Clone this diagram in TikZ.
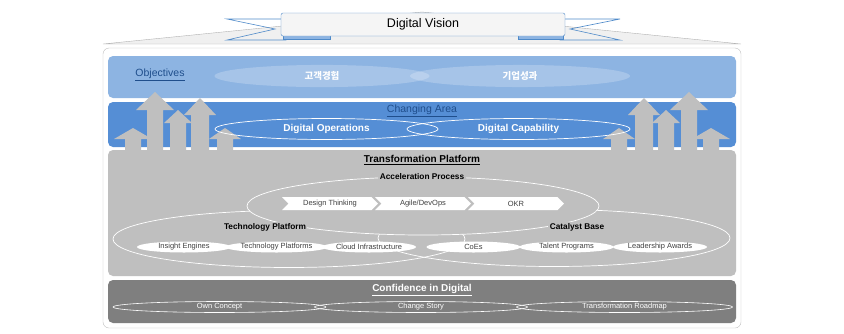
\documentclass[tikz,border=0pt]{standalone}
\usepackage{fontspec}
\setmainfont{Liberation Sans}
\newfontfamily\krfont{Noto Sans CJK KR}
\usetikzlibrary{shapes.geometric,shapes.symbols}

\definecolor{objblue}{HTML}{8DB4E2}
\definecolor{chgblue}{HTML}{558ED5}
\definecolor{platgray}{HTML}{BFBFBF}
\definecolor{confgray}{HTML}{7F7F7F}
\definecolor{ribbon}{HTML}{4F8AC9}
\definecolor{navy}{HTML}{1F4E8C}
\definecolor{textgray}{HTML}{404040}

% x, tip y, head half width, head base y, shaft half width
\newcommand{\growarrow}[5]{%
  \fill[platgray] (#1,#2) -- (#1+#3,#4) -- (#1+#5,#4) -- (#1+#5,150)
    -- (#1-#5,150) -- (#1-#5,#4) -- (#1-#3,#4) -- cycle;}

\begin{document}
\begin{tikzpicture}[x=1pt, y=-1pt,
    band/.style={rounded corners=5pt},
    ring/.style={ellipse, draw=white, line width=0.7pt, inner sep=0pt},
    pill/.style={ellipse, fill=white, inner sep=0pt, minimum width=94pt,
      minimum height=11pt, font=\fontsize{7.5}{9}\selectfont, text=textgray},
    chev/.style={signal, signal from=west, signal to=east, fill=white,
      inner sep=0pt, minimum width=96pt, minimum height=13pt,
      font=\fontsize{7.5}{9}\selectfont, text=textgray},
    lbl/.style={fill=platgray, inner sep=1.5pt,
      font=\fontsize{8.3}{10}\selectfont\bfseries},
    head/.style={font=\fontsize{10}{12}\selectfont\bfseries},
  ]
  \useasboundingbox (0,0) rectangle (844,333);

  % roof and banner
  \draw[gray!60, fill=gray!12] (103,44) -- (422,12) -- (741,44) -- cycle;
  \draw[ribbon, line width=0.6pt] (227,19) -- (286,19) -- (286,40) -- (227,40) -- (275,29) -- cycle;
  \draw[ribbon, line width=0.6pt] (620,19) -- (560,19) -- (560,40) -- (620,40) -- (570,29) -- cycle;
  \draw[ribbon, fill=objblue] (283,34) rectangle (330,39);
  \draw[ribbon, fill=objblue] (518,34) rectangle (563,39);
  \node[draw=ribbon, fill=gray!8, rounded corners=2pt, minimum width=284pt,
    minimum height=23pt, font=\fontsize{12.5}{14}\selectfont] (vision) at (423,24.5) {Digital Vision};

  % frame
  \draw[gray!50, fill=white, rounded corners=6pt] (103,48) rectangle (741,328);

  % objectives
  \fill[objblue, band] (108,56) rectangle (736,98);
  \node[text=navy, font=\fontsize{10.5}{12}\selectfont] (obj) at (160,75) {\underline{Objectives}};
  \node[ellipse, fill=white, fill opacity=0.22, text opacity=1, minimum width=215pt,
    minimum height=19pt, text=white, font=\krfont\fontsize{9.5}{11}\selectfont\bfseries] (cx) at (322,76) {고객경험};
  \node[ellipse, fill=white, fill opacity=0.22, text opacity=1, minimum width=220pt,
    minimum height=19pt, text=white, font=\krfont\fontsize{9.5}{11}\selectfont\bfseries] (bp) at (520,76) {기업성과};

  % changing area
  \fill[chgblue, band] (108,102) rectangle (736,147);
  \foreach \ax/\tip/\hh/\hb/\sh in {155/92/19/110/8, 200/98/16/115/9, 178/110/14/123/8,
      133/128/19/139/8, 225/128/16/139/8} {
    \growarrow{\ax}{\tip}{\hh}{\hb}{\sh}
    \growarrow{844-\ax}{\tip}{\hh}{\hb}{\sh}
  }
  \node[text=navy, font=\fontsize{10.5}{12}\selectfont] (chg) at (422,111) {\underline{Changing Area}};
  \node[ring, minimum width=223pt, minimum height=21pt, text=white, head] (dops) at (326.5,129) {Digital Operations};
  \node[ring, minimum width=223pt, minimum height=21pt, text=white, head] (dcap) at (518.5,129) {Digital Capability};

  % transformation platform
  \fill[platgray, band] (108,150) rectangle (736,276);
  \node[head] (tp) at (422,160) {\underline{Transformation Platform}};
  \node[ring, minimum width=352pt, minimum height=57pt] (tech) at (289,239) {};
  \node[ring, minimum width=352pt, minimum height=57pt] (cat) at (554,238) {};
  \node[ring, fill=platgray, minimum width=352pt, minimum height=58pt] (acc) at (423,206) {};
  \node[lbl] (ap) at (422,177) {Acceleration Process};
  \node[lbl] (tpl) at (265,227) {Technology Platform};
  \node[lbl] (cb) at (577,227) {Catalyst Base};
  \node[chev] (dt) at (330,203.5) {Design Thinking};
  \node[chev] (agile) at (423,203.5) {Agile/DevOps};
  \node[chev] (okr) at (516,203.5) {OKR};
  \node[pill] (ie) at (184,247) {Insight Engines};
  \node[pill] (tps) at (276.5,247) {Technology Platforms};
  \node[pill] (ci) at (369,247) {Cloud Infrastructure};
  \node[pill] (coe) at (473.5,247) {CoEs};
  \node[pill] (tal) at (566.5,247) {Talent Programs};
  \node[pill] (la) at (660,247) {Leadership Awards};

  % confidence in digital
  \fill[confgray, band] (108,280) rectangle (736,323);
  \node[head, text=white] (cid) at (422,290) {\underline{Confidence in Digital}};
  \node[ring, line width=0.6pt, minimum width=213pt, minimum height=11pt, text=white,
    font=\fontsize{7.5}{9}\selectfont] (own) at (219.5,307) {Own Concept};
  \node[ring, line width=0.6pt, minimum width=213pt, minimum height=11pt, text=white,
    font=\fontsize{7.5}{9}\selectfont] (story) at (421,307) {Change Story};
  \node[ring, line width=0.6pt, minimum width=216pt, minimum height=11pt, text=white,
    font=\fontsize{7.5}{9}\selectfont] (road) at (624.5,307) {Transformation Roadmap};
\end{tikzpicture}
\end{document}
